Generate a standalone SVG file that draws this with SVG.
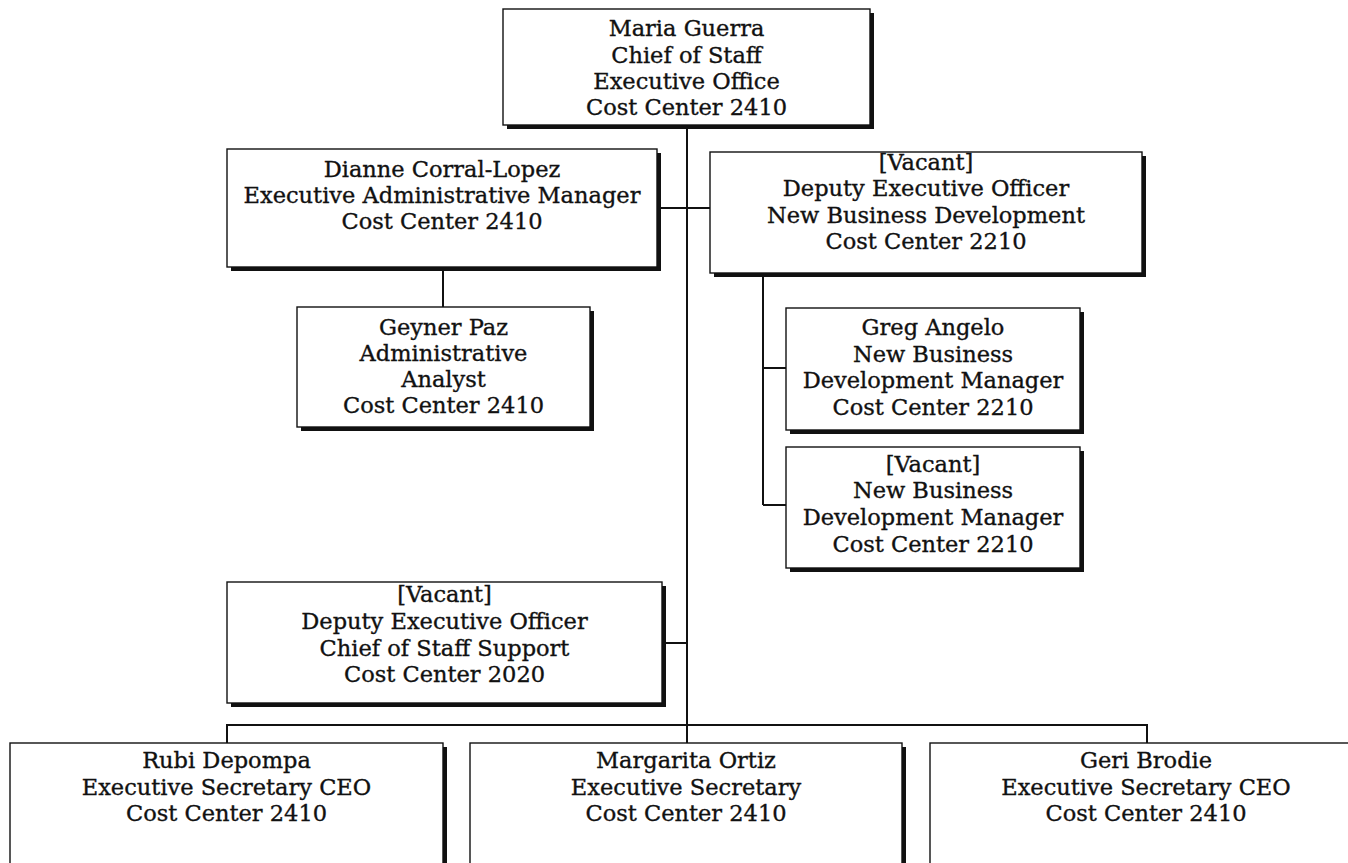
<svg xmlns="http://www.w3.org/2000/svg" width="1348" height="863" viewBox="0 0 1348 863">
<style>
.bg{fill:#ffffff}
.sh{fill:#111111}
.box{fill:#ffffff;stroke:#111111;stroke-width:1.4}
.t{font-family:"DejaVu Serif","Liberation Serif",serif;font-size:22.5px;fill:#111111;stroke:#111111;stroke-width:0.35;text-anchor:middle}
.c{fill:none;stroke:#111111;stroke-width:2}
</style>
<rect class="bg" x="0" y="0" width="1348" height="863"/>
<g id="connectors">
<path class="c" d="M687 125 V743"/>
<path class="c" d="M657 208 H710"/>
<path class="c" d="M443 267 V307"/>
<path class="c" d="M763 273 V505 M763 368 H786 M763 505 H786"/>
<path class="c" d="M662 643 H687"/>
<path class="c" d="M227 743 V725 H1147 V743"/>
</g>
<g id="maria">
<rect class="sh" x="507" y="13" width="367" height="116"/>
<rect class="box" x="503" y="9" width="367" height="116"/>
<text class="t" x="686.5" y="36">Maria Guerra</text>
<text class="t" x="686.5" y="63">Chief of Staff</text>
<text class="t" x="686.5" y="89">Executive Office</text>
<text class="t" x="686.5" y="115">Cost Center 2410</text>
</g>
<g id="dianne">
<rect class="sh" x="231" y="153" width="430" height="118"/>
<rect class="box" x="227" y="149" width="430" height="118"/>
<text class="t" x="442" y="177">Dianne Corral-Lopez</text>
<text class="t" x="442" y="203">Executive Administrative Manager</text>
<text class="t" x="442" y="229">Cost Center 2410</text>
</g>
<g id="deputy-nbd">
<rect class="sh" x="714" y="156" width="432" height="121"/>
<rect class="box" x="710" y="152" width="432" height="121"/>
<text class="t" x="926" y="170">[Vacant]</text>
<text class="t" x="926" y="196">Deputy Executive Officer</text>
<text class="t" x="926" y="223">New Business Development</text>
<text class="t" x="926" y="249">Cost Center 2210</text>
</g>
<g id="geyner">
<rect class="sh" x="301" y="311" width="293" height="120"/>
<rect class="box" x="297" y="307" width="293" height="120"/>
<text class="t" x="443.5" y="335">Geyner Paz</text>
<text class="t" x="443.5" y="361">Administrative</text>
<text class="t" x="443.5" y="387">Analyst</text>
<text class="t" x="443.5" y="413">Cost Center 2410</text>
</g>
<g id="greg">
<rect class="sh" x="790" y="312" width="294" height="122"/>
<rect class="box" x="786" y="308" width="294" height="122"/>
<text class="t" x="933" y="335">Greg Angelo</text>
<text class="t" x="933" y="362">New Business</text>
<text class="t" x="933" y="388">Development Manager</text>
<text class="t" x="933" y="415">Cost Center 2210</text>
</g>
<g id="vacant-nbdm">
<rect class="sh" x="790" y="451" width="294" height="121"/>
<rect class="box" x="786" y="447" width="294" height="121"/>
<text class="t" x="933" y="472">[Vacant]</text>
<text class="t" x="933" y="498">New Business</text>
<text class="t" x="933" y="525">Development Manager</text>
<text class="t" x="933" y="552">Cost Center 2210</text>
</g>
<g id="deputy-cos">
<rect class="sh" x="231" y="586" width="435" height="121"/>
<rect class="box" x="227" y="582" width="435" height="121"/>
<text class="t" x="444.5" y="602">[Vacant]</text>
<text class="t" x="444.5" y="629">Deputy Executive Officer</text>
<text class="t" x="444.5" y="656">Chief of Staff Support</text>
<text class="t" x="444.5" y="682">Cost Center 2020</text>
</g>
<g id="rubi">
<rect class="sh" x="14" y="747" width="433" height="140"/>
<rect class="box" x="10" y="743" width="433" height="140"/>
<text class="t" x="226.5" y="768">Rubi Depompa</text>
<text class="t" x="226.5" y="795">Executive Secretary CEO</text>
<text class="t" x="226.5" y="821">Cost Center 2410</text>
</g>
<g id="margarita">
<rect class="sh" x="474" y="747" width="432" height="140"/>
<rect class="box" x="470" y="743" width="432" height="140"/>
<text class="t" x="686" y="768">Margarita Ortiz</text>
<text class="t" x="686" y="795">Executive Secretary</text>
<text class="t" x="686" y="821">Cost Center 2410</text>
</g>
<g id="geri">
<rect class="sh" x="934" y="747" width="432" height="140"/>
<rect class="box" x="930" y="743" width="432" height="140"/>
<text class="t" x="1146" y="768">Geri Brodie</text>
<text class="t" x="1146" y="795">Executive Secretary CEO</text>
<text class="t" x="1146" y="821">Cost Center 2410</text>
</g>
</svg>
